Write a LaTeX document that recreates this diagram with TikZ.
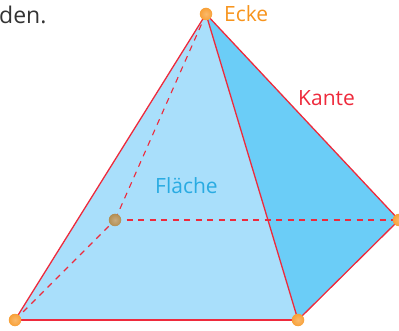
\documentclass[tikz,border=0pt]{standalone}
\usepackage{fontspec}
\setmainfont{Open Sans}
\definecolor{lightface}{HTML}{A9DFFB}
\definecolor{darkface}{HTML}{6BCDF7}
\definecolor{edgered}{HTML}{EE2A3C}
\definecolor{eckeorange}{HTML}{F7941D}
\definecolor{flaeche}{HTML}{29ABE2}
\definecolor{bodytext}{HTML}{333333}
\definecolor{backbrown}{HTML}{A97F3A}
\pgfdeclareradialshading{orangeball}{\pgfpoint{0pt}{0pt}}{%
  color(0pt)=(eckeorange!65!white);color(25pt)=(eckeorange!88!white);color(40pt)=(eckeorange);color(50pt)=(eckeorange)}
\pgfdeclareradialshading{brownball}{\pgfpoint{0pt}{0pt}}{%
  color(0pt)=(backbrown!65!white);color(25pt)=(backbrown!88!white);color(40pt)=(backbrown);color(50pt)=(backbrown)}
\tikzset{
  edge/.style={draw=edgered,line width=1.3pt},
  hidden/.style={draw=edgered,line width=1.1pt,dash pattern=on 6pt off 5.5pt},
  vertexball/.style={circle,inner sep=0pt,minimum size=12.5pt,shading=orangeball,draw=none},
  backball/.style={circle,inner sep=0pt,minimum size=12.5pt,shading=brownball,draw=none},
  lab/.style={inner sep=0pt,anchor=base west,font=\fontsize{21}{25}\selectfont}
}
\begin{document}
\begin{tikzpicture}[x=1pt,y=-1pt]
\useasboundingbox (0,0) rectangle (399,331);
\clip (0,0) rectangle (399,331);
\coordinate (A) at (206,14);
\coordinate (BL) at (15,320);
\coordinate (BR) at (298,320);
\coordinate (R) at (399,220);
\coordinate (H) at (115,220);
\fill[darkface] (A) -- (BR) -- (R) -- cycle;
\fill[lightface] (A) -- (BL) -- (BR) -- cycle;
\draw[hidden] (A) -- (H);
\draw[hidden] (BL) -- (H);
\draw[hidden] (H) -- (R);
\draw[edge] (A) -- (BL);
\draw[edge] (BL) -- (BR);
\draw[edge] (A) -- (BR);
\draw[edge] (A) -- (R);
\draw[edge] (BR) -- (R);
\node[vertexball] (na) at (A) {};
\node[vertexball] (nbl) at (BL) {};
\node[vertexball] (nbr) at (BR) {};
\node[vertexball] (nr) at (R) {};
\node[backball] (nh) at (H) {};
\node[lab,text=eckeorange] (ecke) at (224,22) {Ecke};
\node[lab,text=edgered] (kante) at (298,106) {Kante};
\node[lab,text=flaeche] (fl) at (155,194) {Fläche};
\node[lab,text=bodytext,font=\fontsize{23}{27}\selectfont] (den) at (-1,24) {den.};
\end{tikzpicture}
\end{document}
